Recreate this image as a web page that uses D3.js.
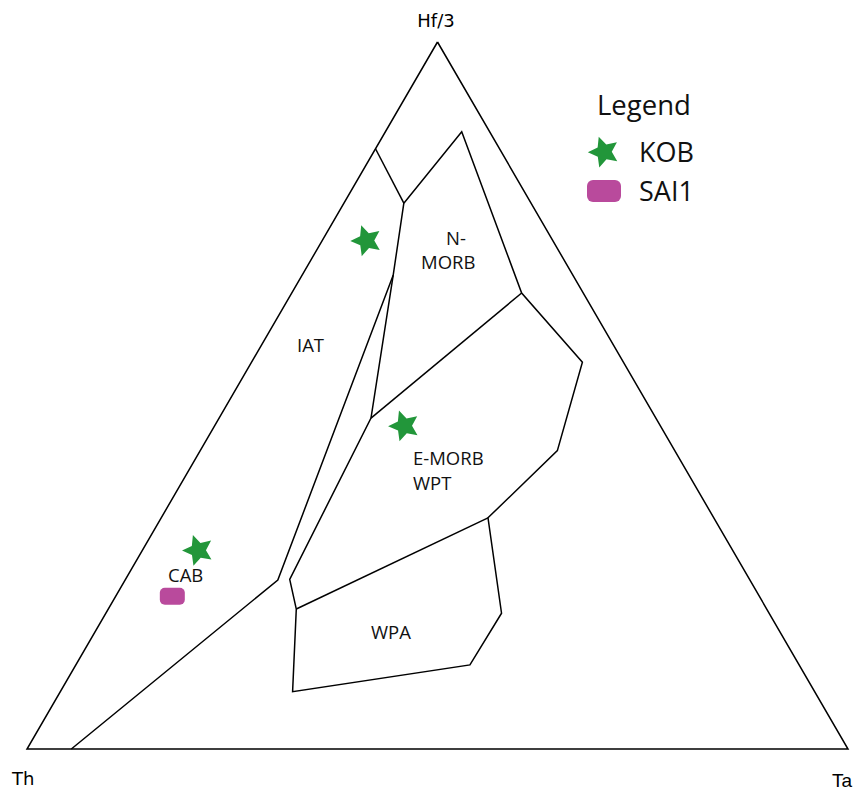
<!DOCTYPE html>
<html>
<head>
<meta charset="utf-8">
<script src="https://cdn.jsdelivr.net/npm/d3@7"></script>
<style>
  html, body { margin: 0; padding: 0; background: #fff; }
  svg { display: block; }
</style>
</head>
<body>
<div id="chart"></div>
<script>
// Hf/3 – Th – Ta discrimination diagram (Wood, 1980)
// Every point is given as [Hf/3, Th, Ta] in percent.

const apexLabels = ["Hf/3", "Th", "Ta"];

// Field boundaries
const boundaryA = [[84.9, 15.1, 0.0], [77.2, 15.5, 7.3]];
const boundaryB = [
  [77.2, 15.5, 7.3], [87.3, 3.4, 9.3], [64.5, 7.5, 28.0], [54.7, 5.0, 40.3],
  [42.2, 14.3, 43.5], [32.7, 27.5, 39.8], [19.2, 32.6, 48.2], [11.9, 40.1, 48.0],
  [8.1, 63.6, 28.3], [19.8, 57.3, 22.9], [24.0, 56.0, 20.0], [46.8, 34.7, 18.5],
  [67.0, 21.9, 11.1], [77.2, 15.5, 7.3]
];
const boundaryC = [[67.0, 21.9, 11.1], [23.9, 57.5, 18.6], [0.0, 94.6, 5.4]];
const boundaryD = [[64.5, 7.5, 28.0], [46.8, 34.7, 18.5]];
const boundaryE = [[32.7, 27.5, 39.8], [19.8, 57.3, 22.9]];
const boundaries = [boundaryA, boundaryB, boundaryC, boundaryD, boundaryE];

// Samples
const kobPoints = [[71.9, 22.8, 5.4], [45.7, 31.2, 23.1], [28.1, 65.1, 6.8]];
const sai1Points = [[21.6, 71.5, 6.9]];

const seriesNames = ["KOB", "SAI1"];

const W = 861, H = 792;
const svg = d3.select("#chart").append("svg")
  .attr("width", W).attr("height", H);

const x = d3.scaleLinear().domain([0, 100]).range([27, 848]);
const y = d3.scaleLinear().domain([0, 100]).range([749, 42]);

// ternary -> screen
const px = d => x(d[2] + d[0] / 2);
const py = d => y(d[0]);

const line = d3.line().x(px).y(py);

// outer triangle
const frame = [[100, 0, 0], [0, 100, 0], [0, 0, 100], [100, 0, 0]];
svg.append("path")
  .attr("d", line(frame))
  .attr("fill", "none")
  .attr("stroke", "#000")
  .attr("stroke-width", 1.5)
  .attr("stroke-linejoin", "miter");

svg.append("g").selectAll("path")
  .data(boundaries)
  .join("path")
  .attr("d", line)
  .attr("fill", "none")
  .attr("stroke", "#000")
  .attr("stroke-width", 1.5)
  .attr("stroke-linejoin", "miter");

// apex labels
const apexFont = "'DejaVu Sans', sans-serif";
svg.append("text").text(apexLabels[0])
  .attr("x", 436).attr("y", 27).attr("text-anchor", "middle")
  .attr("font-family", apexFont).attr("font-size", 18);
svg.append("text").text(apexLabels[1])
  .attr("x", 12).attr("y", 785)
  .attr("font-family", apexFont).attr("font-size", 18);
svg.append("text").text(apexLabels[2])
  .attr("x", 832).attr("y", 787)
  .attr("font-family", "'Liberation Sans', sans-serif").attr("font-size", 19);

// field names
const fieldFont = "'Open Sans', sans-serif";
const fieldLabels = [
  { t: "N-", x: 446, y: 245 },
  { t: "MORB", x: 421, y: 269 },
  { t: "IAT", x: 297, y: 352 },
  { t: "E-MORB", x: 413, y: 465 },
  { t: "WPT", x: 413, y: 490 },
  { t: "CAB", x: 168, y: 582 },
  { t: "WPA", x: 371, y: 639 }
];
svg.append("g").selectAll("text")
  .data(fieldLabels)
  .join("text")
  .text(d => d.t)
  .attr("x", d => d.x).attr("y", d => d.y)
  .attr("font-family", fieldFont).attr("font-size", 18.5)
  .attr("fill", "#111");

// markers: a plump five-pointed star
const plumpStar = {
  draw(context, size) {
    const R = Math.sqrt(size) * 0.95;
    const r = R * 0.48;
    for (let i = 0; i < 10; ++i) {
      const a = -Math.PI / 2 + i * Math.PI / 5;
      const rad = i % 2 ? r : R;
      const sx = rad * Math.cos(a), sy = rad * Math.sin(a);
      if (i === 0) context.moveTo(sx, sy); else context.lineTo(sx, sy);
    }
    context.closePath();
  }
};
const green = "#22963a", magenta = "#b94a9c";
const star = d3.symbol().type(plumpStar).size(290);

svg.append("g").selectAll("path")
  .data(kobPoints)
  .join("path")
  .attr("d", star)
  .attr("transform", d => `translate(${px(d)},${py(d)}) rotate(-19)`)
  .attr("fill", green);

svg.append("g").selectAll("rect")
  .data(sai1Points)
  .join("rect")
  .attr("x", d => px(d) - 12.5).attr("y", d => py(d) - 8.5)
  .attr("width", 25).attr("height", 17).attr("rx", 5)
  .attr("fill", magenta);

// legend
const legend = svg.append("g");
legend.append("text").text("Legend")
  .attr("x", 597).attr("y", 115)
  .attr("font-family", fieldFont).attr("font-size", 27.5).attr("fill", "#111");
legend.append("path")
  .attr("d", star)
  .attr("transform", "translate(604,152) rotate(-19)")
  .attr("fill", green);
legend.append("rect")
  .attr("x", 587).attr("y", 180).attr("width", 34).attr("height", 22).attr("rx", 6)
  .attr("fill", magenta);
legend.selectAll("text.item")
  .data(seriesNames)
  .join("text")
  .attr("class", "item")
  .text(d => d)
  .attr("x", 639).attr("y", (d, i) => 162 + i * 39)
  .attr("font-family", fieldFont).attr("font-size", 27).attr("fill", "#111");
</script>
</body>
</html>
